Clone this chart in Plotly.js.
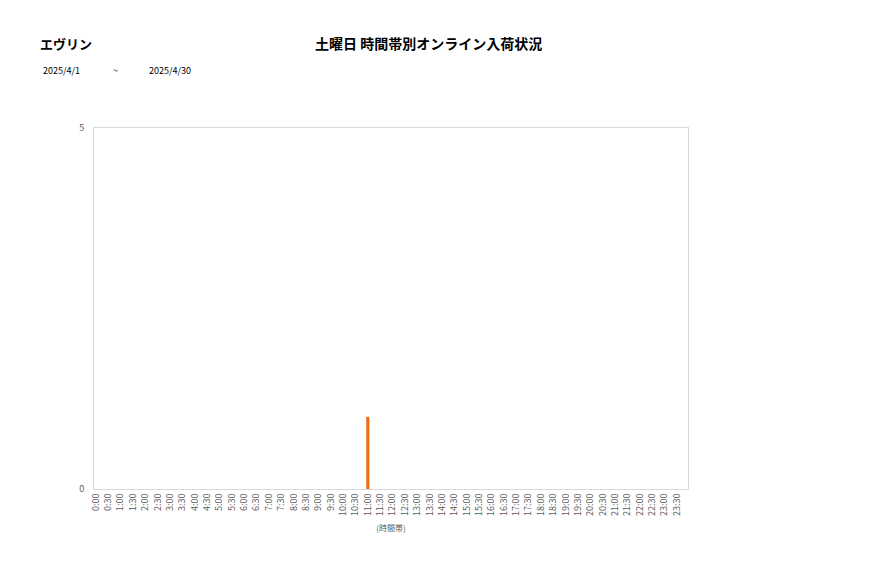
<!DOCTYPE html>
<html>
<head>
<meta charset="utf-8">
<script src="https://cdn.plot.ly/plotly-3.0.1.min.js"></script>
<style>
  body { margin: 0; background: #fff; }
  #chart { width: 877px; height: 578px; }
</style>
</head>
<body>
<div id="chart"></div>
<script>
// time slots 0:00 .. 23:30 (half hours)
const timeSlots = [
  "0:00","0:30","1:00","1:30","2:00","2:30","3:00","3:30","4:00","4:30",
  "5:00","5:30","6:00","6:30","7:00","7:30","8:00","8:30","9:00","9:30",
  "10:00","10:30","11:00","11:30","12:00","12:30","13:00","13:30","14:00","14:30",
  "15:00","15:30","16:00","16:30","17:00","17:30","18:00","18:30","19:00","19:30",
  "20:00","20:30","21:00","21:30","22:00","22:30","23:00","23:30"
];
const arrivals = [
  0,0,0,0,0,0,0,0,0,0,
  0,0,0,0,0,0,0,0,0,0,
  0,0,1,0,0,0,0,0,0,0,
  0,0,0,0,0,0,0,0,0,0,
  0,0,0,0,0,0,0,0
];
const yTicks = [0, 5];

const shopName = "エヴリン";
const chartTitle = "土曜日 時間帯別オンライン入荷状況";
const dateFrom = "2025/4/1";
const dateTo = "2025/4/30";

const font = "Noto Sans CJK JP, Noto Sans, sans-serif";

const trace = {
  type: "bar",
  x: timeSlots,
  y: arrivals,
  width: 0.25,
  marker: { color: "#f26a10" },
  hoverinfo: "x+y"
};

const layout = {
  width: 877,
  height: 578,
  paper_bgcolor: "#fff",
  plot_bgcolor: "#fff",
  showlegend: false,
  margin: { l: 94, r: 189, t: 128, b: 89 },
  font: { family: font, color: "#404040" },
  xaxis: {
    type: "category",
    range: [-0.15, 47.9],
    tickangle: -90,
    tickfont: { size: 9, color: "#595959" },
    showgrid: false,
    zeroline: false,
    showline: true,
    linecolor: "#d9d9d9",
    mirror: true,
    ticks: "",
    title: { text: "(時間帯)", font: { size: 8, color: "#595959" }, standoff: 10 }
  },
  yaxis: {
    range: [0, 5],
    tickvals: yTicks,
    tickfont: { size: 9, color: "#595959" },
    showgrid: false,
    zeroline: false,
    showline: true,
    linecolor: "#d9d9d9",
    mirror: true,
    ticks: "",
    ticklabelstandoff: 7
  },
  annotations: [
    { text: "<b>" + shopName + "</b>", xref: "paper", yref: "paper",
      x: (38 - 94) / 594, y: (578 - 89 - 43) / 361, xanchor: "left", yanchor: "middle",
      showarrow: false, font: { size: 13, color: "#000" } },
    { text: "<b>" + chartTitle + "</b>", xref: "paper", yref: "paper",
      x: (428 - 94) / 594, y: (578 - 89 - 43) / 361, xanchor: "center", yanchor: "middle",
      showarrow: false, font: { size: 14, color: "#000" } },
    { text: dateFrom, xref: "paper", yref: "paper",
      x: (41 - 94) / 594, y: (578 - 89 - 70) / 361, xanchor: "left", yanchor: "middle",
      showarrow: false, font: { size: 9, color: "#000" } },
    { text: "~", xref: "paper", yref: "paper",
      x: (111 - 94) / 594, y: (578 - 89 - 70) / 361, xanchor: "left", yanchor: "middle",
      showarrow: false, font: { size: 9, color: "#000" } },
    { text: dateTo, xref: "paper", yref: "paper",
      x: (147 - 94) / 594, y: (578 - 89 - 70) / 361, xanchor: "left", yanchor: "middle",
      showarrow: false, font: { size: 9, color: "#000" } }
  ]
};

Plotly.newPlot("chart", [trace], layout, { displayModeBar: false, staticPlot: true });
</script>
</body>
</html>
